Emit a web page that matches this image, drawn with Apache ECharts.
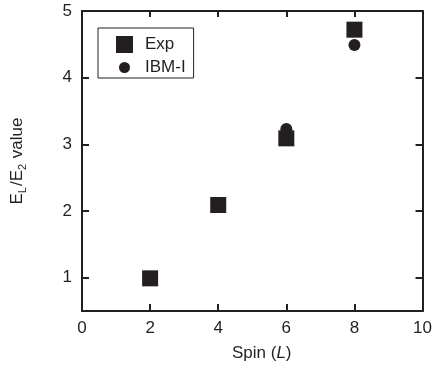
<!DOCTYPE html>
<html>
<head>
<meta charset="utf-8">
<script src="https://cdn.jsdelivr.net/npm/echarts@6/dist/echarts.min.js"></script>
<style>
  html, body { margin: 0; padding: 0; background: #fff; }
  #chart { width: 435px; height: 369px; }
</style>
</head>
<body>
<div id="chart"></div>
<script>
const spin = [2, 4, 6, 8];
const expValues = [0.99, 2.09, 3.09, 4.72];
const ibmValues = [0.99, 2.08, 3.23, 4.49];
const yTicks = [1, 2, 3, 4, 5];

const ink = "#231f20";
const font = "Liberation Sans";

// circle icon padded inside a 17x17 box so it draws smaller than the square
const smallCircle = "path://M0,0M17,17M14,8.5A5.5,5.5,0,1,1,3,8.5A5.5,5.5,0,1,1,14,8.5Z";

const chart = echarts.init(document.getElementById("chart"));

const tickStyle = { color: ink, width: 2 };

const options = {
  animation: false,
  textStyle: { fontFamily: font },
  grid: { left: 82, right: 10, top: 11, bottom: 58 },
  legend: {
    orient: "vertical",
    left: 98,
    top: 28,
    padding: [8, 8, 2, 18],
    itemGap: 6,
    itemWidth: 17,
    itemHeight: 17,
    borderColor: ink,
    borderWidth: 1,
    textStyle: { fontFamily: font, fontSize: 17, color: ink, padding: [0, 0, 0, 7] },
    data: [
      { name: "Exp", icon: "rect" },
      { name: "IBM-I", icon: smallCircle },
    ],
  },
  xAxis: [
    {
      type: "value",
      min: 0,
      max: 10,
      interval: 2,
      splitLine: { show: false },
      axisLine: { show: true, onZero: false, lineStyle: { color: ink, width: 2 } },
      axisTick: { show: true, inside: true, length: 7, lineStyle: tickStyle },
      axisLabel: { color: ink, fontSize: 17, margin: 9 },
      name: "{n|Spin (}{i|L}{n|)}",
      nameLocation: "middle",
      nameGap: 34,
      nameTextStyle: {
        padding: [0, 0, 0, 19],
        rich: {
          n: { fontFamily: font, fontSize: 17, color: ink },
          i: { fontFamily: font, fontSize: 17, color: ink, fontStyle: "italic" },
        },
      },
    },
    {
      type: "value",
      position: "top",
      min: 0,
      max: 10,
      interval: 2,
      splitLine: { show: false },
      axisLine: { show: true, onZero: false, lineStyle: { color: ink, width: 2 } },
      axisTick: { show: true, inside: true, length: 6, lineStyle: tickStyle },
      axisLabel: { show: false },
    },
  ],
  yAxis: [
    {
      type: "value",
      min: 0.5,
      max: 5,
      splitLine: { show: false },
      axisLine: { show: true, onZero: false, lineStyle: { color: ink, width: 2 } },
      axisTick: { show: true, inside: true, length: 7, customValues: yTicks, lineStyle: tickStyle },
      axisLabel: { color: ink, fontSize: 17, margin: 10, customValues: yTicks },
      name: "{e|E}{s|L}{e|/E}{s|2}{e| value}",
      nameLocation: "middle",
      nameGap: 54,
      nameTextStyle: {
        rich: {
          e: { fontFamily: font, fontSize: 17, color: ink },
          s: { fontFamily: font, fontSize: 11, color: ink, padding: [10, 1, 0, 0] },
        },
      },
    },
    {
      type: "value",
      position: "right",
      min: 0.5,
      max: 5,
      splitLine: { show: false },
      axisLine: { show: true, onZero: false, lineStyle: { color: ink, width: 2 } },
      axisTick: { show: true, inside: true, length: 7, customValues: yTicks, lineStyle: tickStyle },
      axisLabel: { show: false },
    },
  ],
  series: [
    {
      name: "IBM-I",
      type: "scatter",
      symbol: "circle",
      symbolSize: 12,
      itemStyle: { color: ink, opacity: 1 },
      data: spin.map((s, i) => [s, ibmValues[i]]),
      z: 2,
    },
    {
      name: "Exp",
      type: "scatter",
      symbol: "rect",
      symbolSize: 16,
      itemStyle: { color: ink, opacity: 1 },
      data: spin.map((s, i) => [s, expValues[i]]),
      z: 3,
    },
  ],
};

chart.setOption(options);
</script>
</body>
</html>
